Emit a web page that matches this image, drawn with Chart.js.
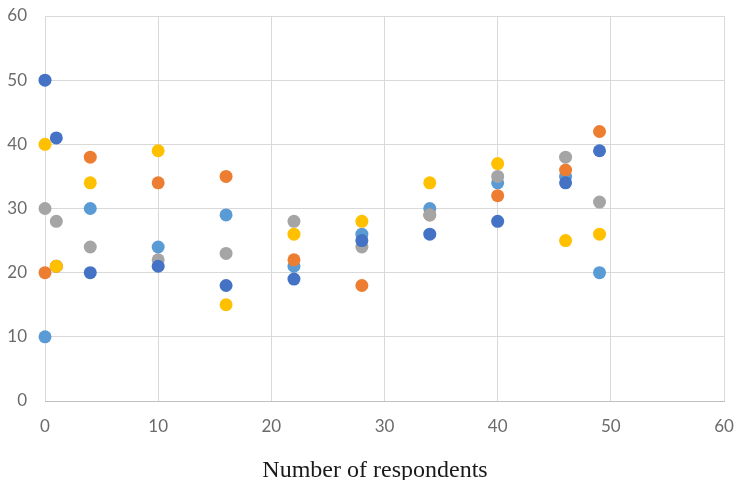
<!DOCTYPE html>
<html lang="en">
<head>
<meta charset="UTF-8">
<title>Respondents scatter</title>
<script src="https://cdn.jsdelivr.net/npm/chart.js"></script>
<style>
    html, body { margin: 0; padding: 0; background: #ffffff; }
    .wrap { width: 734px; height: 480px; position: relative; }
</style>
</head>
<body>
<div class="wrap">
    <canvas id="scatterChart"></canvas>
</div>
<script>
    // x positions (number of respondents)
    const xValues = [0, 1, 4, 10, 16, 22, 28, 34, 40, 46, 49];

    // one array per series, same order as xValues
    const lightBlueValues = [10, 21, 30, 24, 29, 21, 26, 30, 34, 35, 20];
    const orangeValues    = [20, 21, 38, 34, 35, 22, 18, 29, 32, 36, 42];
    const grayValues      = [30, 28, 24, 22, 23, 28, 24, 29, 35, 38, 31];
    const yellowValues    = [40, 21, 34, 39, 15, 26, 28, 34, 37, 25, 26];
    const darkBlueValues  = [50, 41, 20, 21, 18, 19, 25, 26, 28, 34, 39];

    const xTicks = [0, 10, 20, 30, 40, 50, 60];
    const yTicks = [0, 10, 20, 30, 40, 50, 60];
    const xAxisTitle = 'Number of respondents';

    function toPoints(values) {
        return values.map((v, i) => ({ x: xValues[i], y: v }));
    }

    // later series sit on top, like the spreadsheet
    function makeSet(values, color, order) {
        return {
            data: toPoints(values),
            backgroundColor: color,
            borderColor: color,
            pointRadius: 6.5,
            pointBorderWidth: 0,
            clip: false,
            order: order
        };
    }

    // the axis caption in the original sits a little left of the plot centre
    const captionPlugin = {
        id: 'xCaption',
        afterDraw(chart) {
            const c = chart.ctx;
            c.save();
            c.font = '24px "Liberation Serif"';
            c.fillStyle = '#1a1a1a';
            c.textAlign = 'center';
            c.textBaseline = 'alphabetic';
            c.fillText(xAxisTitle, chart.chartArea.left + 330, 477);
            c.restore();
        }
    };

    const tickFont = { family: 'Lato', size: 17 };

    const ctx = document.getElementById('scatterChart').getContext('2d');
    new Chart(ctx, {
        type: 'scatter',
        data: {
            datasets: [
                makeSet(lightBlueValues, '#5B9BD5', 5),
                makeSet(orangeValues, '#ED7D31', 4),
                makeSet(grayValues, '#A5A5A5', 3),
                makeSet(yellowValues, '#FFC000', 2),
                makeSet(darkBlueValues, '#4472C4', 1)
            ]
        },
        plugins: [captionPlugin],
        options: {
            responsive: true,
            maintainAspectRatio: false,
            animation: false,
            layout: { autoPadding: false, padding: { top: 16, left: 0, right: 10, bottom: 0 } },
            plugins: {
                legend: { display: false },
                tooltip: { enabled: false }
            },
            scales: {
                x: {
                    type: 'linear',
                    min: 0,
                    max: 60,
                    afterBuildTicks: axis => { axis.ticks = xTicks.map(v => ({ value: v })); },
                    afterFit: axis => {
                        axis.height = 79;
                        axis.paddingLeft = 0;
                        axis.paddingRight = 0;
                    },
                    grid: { color: '#D9D9D9', drawTicks: false },
                    border: { color: '#BFBFBF', width: 1 },
                    ticks: {
                        padding: 15,
                        color: '#6b6b6b',
                        font: tickFont
                    }
                },
                y: {
                    type: 'linear',
                    min: 0,
                    max: 60,
                    afterBuildTicks: axis => { axis.ticks = yTicks.map(v => ({ value: v })); },
                    afterFit: axis => {
                        axis.width = 45;
                        axis.paddingTop = 0;
                        axis.paddingBottom = 0;
                    },
                    grid: { color: '#D9D9D9', drawTicks: false },
                    border: { display: false },
                    ticks: {
                        padding: 18,
                        color: '#6b6b6b',
                        font: tickFont
                    }
                }
            }
        }
    });
</script>
</body>
</html>
